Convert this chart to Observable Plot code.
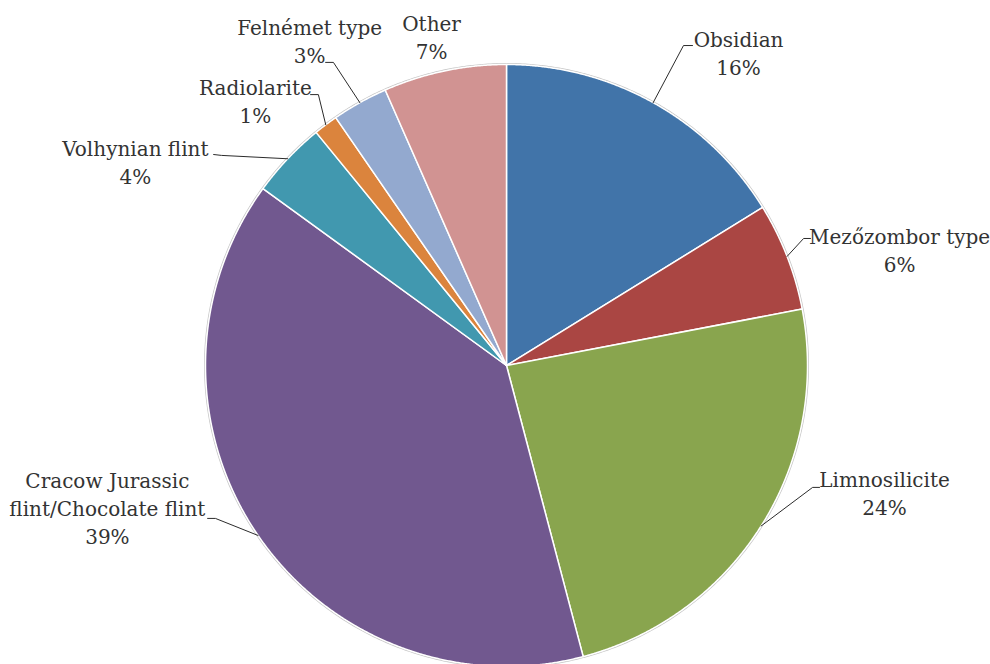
<!DOCTYPE html>
<html><head><meta charset="utf-8">
<script src="https://cdn.jsdelivr.net/npm/d3@7"></script>
<script src="https://cdn.jsdelivr.net/npm/@observablehq/plot@0.6"></script>
<style>html,body{margin:0;padding:0;background:#fff}svg{display:block}svg text{font-family:"DejaVu Serif",serif !important}</style>
</head><body><div id="chart"></div>
<script>
// ---- data ----
const categories = ["Obsidian", "Mezőzombor type", "Limnosilicite", "Cracow Jurassic flint/Chocolate flint", "Volhynian flint", "Radiolarite", "Felnémet type", "Other"];
const values = [16.2, 5.8, 23.9, 39.1, 4.1, 1.3, 3.0, 6.6];
const colors = ["#4174A9", "#AA4643", "#89A54E", "#71588F", "#4198AF", "#DB843D", "#93A9CF", "#D19392"];
// label layout (in pie-radius units, pie centre at 0,0)
const labelX = [0.771, 1.306, 1.256, -1.326, -1.233, -0.834, -0.654, -0.249];
const labelY = [1.041, 0.387, -0.422, -0.470, 0.679, 0.882, 1.081, 1.094];
const elbowX = [0.588, 0.987, 1.017, -0.967, -0.947, -0.625, -0.575, null];
const elbowY = [1.063, 0.422, -0.405, -0.508, 0.698, 0.900, 1.007, null];
const endX   = [0.618, 1.010, 1.040, -0.993, -0.973, -0.651, -0.601, null];
const endY   = [1.063, 0.422, -0.405, -0.508, 0.701, 0.900, 1.007, null];

const data = categories.map((name, i) => ({name, value: values[i], color: colors[i]}));
const arcs = d3.pie().sort(null).value(d => d.value)(data);

// slice polygons
const slicePts = [];
for (const a of arcs) {
  slicePts.push({name: a.data.name, x: 0, y: 0});
  const n = Math.max(2, Math.ceil((a.endAngle - a.startAngle) / 0.004));
  for (let k = 0; k <= n; k++) {
    const t = a.startAngle + (a.endAngle - a.startAngle) * k / n;
    slicePts.push({name: a.data.name, x: Math.sin(t), y: Math.cos(t)});
  }
}
const outline = d3.range(0, 721).map(k => {
  const t = k / 720 * 2 * Math.PI;
  return {x: 1.003 * Math.sin(t), y: 1.003 * Math.cos(t)};
});
// leaders
const leaderPts = [];
arcs.forEach((a, i) => {
  if (elbowX[i] == null) return;
  const m = (a.startAngle + a.endAngle) / 2;
  leaderPts.push({name: a.data.name, x: Math.sin(m), y: Math.cos(m)});
  leaderPts.push({name: a.data.name, x: elbowX[i], y: elbowY[i]});
  leaderPts.push({name: a.data.name, x: endX[i], y: endY[i]});
});
const labels = data.map((d, i) => ({
  x: labelX[i], y: labelY[i],
  text: d.name.replace(" flint/", "\nflint/") + "\n" + Math.round(d.value) + "%"
}));

const W = 990, H = 664, cx = 506, cy = 365, R = 301;
const chart = Plot.plot({
  width: W, height: H,
  margin: 0,
  style: {background: "#fff", fontFamily: "'DejaVu Serif', serif"},
  x: {axis: null, domain: [-cx / R, (W - cx) / R]},
  y: {axis: null, domain: [-(H - cy) / R, cy / R]},
  color: {domain: categories, range: colors},
  marks: [
    Plot.line(outline, {x: "x", y: "y", stroke: "#c8c8c8", strokeWidth: 1.2, curve: "linear-closed"}),
    Plot.line(slicePts, {x: "x", y: "y", z: "name", fill: "name", stroke: "#fff", strokeWidth: 1.5, strokeLinejoin: "round", curve: "linear-closed"}),
    Plot.line(leaderPts, {x: "x", y: "y", z: "name", stroke: "#2b2b2b", strokeWidth: 1}),
    Plot.text(labels, {x: "x", y: "y", text: "text", fontSize: 20, fontFamily: "'DejaVu Serif', serif", fill: "#333", lineHeight: 1.4, textAnchor: "middle", lineAnchor: "middle"})
  ]
});
document.getElementById("chart").appendChild(chart);
</script>
</body></html>
